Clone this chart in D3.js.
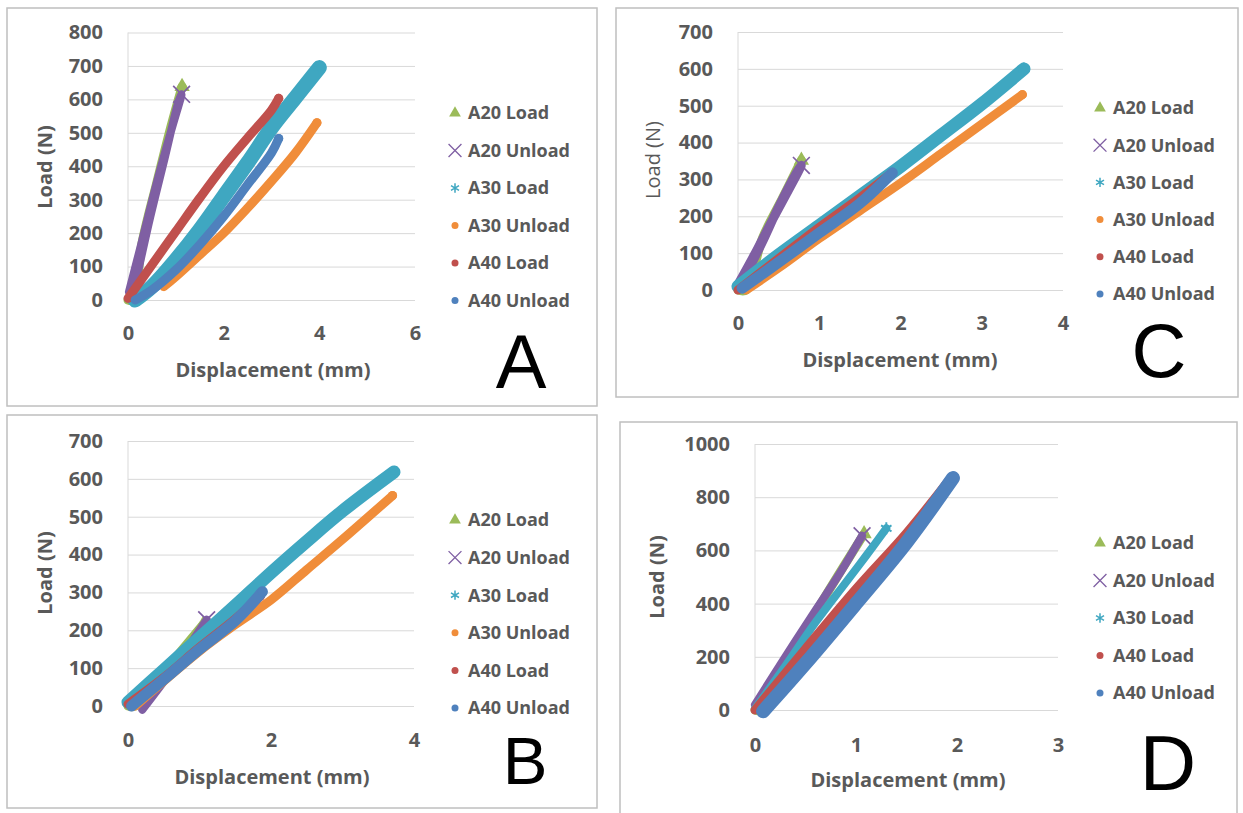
<!DOCTYPE html>
<html>
<head>
<meta charset="utf-8">
<script src="https://cdn.jsdelivr.net/npm/d3@7"></script>
<style>
	body { margin: 0; background: #fff; }
	text { font-family: "Open Sans", sans-serif; }
</style>
</head>
<body>
<svg id="chart" width="1243" height="813"></svg>
<script>
// legend labels, in Excel series order
var seriesNames = ["A20 Load", "A20 Unload", "A30 Load", "A30 Unload", "A40 Load", "A40 Unload"];

// tick values per panel
var xTicksA = [0, 2, 4, 6];
var yTicksA = [0, 100, 200, 300, 400, 500, 600, 700, 800];
var xTicksB = [0, 2, 4];
var yTicksB = [0, 100, 200, 300, 400, 500, 600, 700];
var xTicksC = [0, 1, 2, 3, 4];
var yTicksC = [0, 100, 200, 300, 400, 500, 600, 700];
var xTicksD = [0, 1, 2, 3];
var yTicksD = [0, 200, 400, 600, 800, 1000];

// panel A  [displacement mm, load N]
var aA20Load   = [[0, 0], [0.1, 0], [0.3, 175], [0.6, 350], [0.9, 520], [1.13, 638]];
var aA20Unload = [[0.02, 25], [0.3, 180], [0.6, 350], [0.9, 505], [1.12, 615], [1.06, 595], [0.76, 420], [0.46, 245], [0.16, 55], [0.06, 0]];
var aA30Load   = [[0.15, 0], [0.5, 40], [1, 120], [1.5, 210], [2, 310], [2.5, 410], [3, 515], [3.5, 605], [4, 695]];
var aA30Unload = [[0.75, 40], [1, 70], [1.5, 135], [2, 200], [2.5, 275], [3, 355], [3.5, 440], [3.95, 530]];
var aA40Load   = [[0, 5], [0.5, 105], [1, 205], [1.5, 305], [2, 400], [2.5, 485], [3, 568], [3.15, 603]];
var aA40Unload = [[0.15, 0], [0.5, 30], [1, 90], [1.5, 165], [2, 250], [2.5, 345], [3, 440], [3.15, 483]];

// panel B
var bA20Load   = [[0, 0], [0.1, 0], [0.5, 90], [1.05, 215]];
var bA20Unload = [[0.2, -10], [0.6, 90], [1.1, 228]];
var bA30Load   = [[0, 10], [0.5, 95], [1, 180], [1.5, 265], [2, 352], [2.5, 435], [3, 515], [3.72, 618]];
var bA30Unload = [[0.1, 0], [1, 145], [1.5, 215], [2, 280], [2.5, 360], [3, 440], [3.7, 556]];
var bA40Load   = [[0, 5], [0.5, 75], [1, 155], [1.5, 230], [1.85, 290]];
var bA40Unload = [[0.05, 0], [0.5, 70], [1, 150], [1.5, 225], [1.88, 302]];

// panel C
var cA20Load   = [[0, 0], [0.1, 0], [0.3, 140], [0.55, 250], [0.78, 352]];
var cA20Unload = [[0, 15], [0.2, 95], [0.4, 180], [0.6, 262], [0.78, 338], [0.72, 318], [0.5, 225], [0.3, 130], [0.1, 40], [0.05, 10]];
var cA30Load   = [[0, 10], [0.5, 95], [1, 175], [1.5, 255], [2, 335], [2.5, 420], [3, 505], [3.52, 600]];
var cA30Unload = [[0.1, 0], [0.5, 60], [1, 140], [1.5, 215], [2, 290], [2.5, 370], [3, 450], [3.5, 530]];
var cA40Load   = [[0, 0], [0.5, 85], [1, 170], [1.5, 250], [1.88, 315]];
var cA40Unload = [[0.05, 5], [0.5, 75], [1, 155], [1.5, 235], [1.9, 318]];

// panel D (no A30 Unload series)
var dA20Load   = [[0, 0], [0.1, 0], [0.5, 300], [1.08, 662]];
var dA20Unload = [[0, 20], [0.3, 200], [0.6, 375], [0.85, 520], [1.06, 655]];
var dA30Load   = [[0, 5], [0.3, 165], [0.6, 330], [0.9, 480], [1.1, 580], [1.3, 683]];
var dA40Load   = [[0, 0], [0.5, 230], [1, 455], [1.5, 665], [1.93, 868]];
var dA40Unload = [[0.08, -5], [0.5, 175], [1, 400], [1.5, 630], [1.96, 872]];

var colors = {
	"A20 Load": "#9BBB59",
	"A20 Unload": "#7F5FA3",
	"A30 Load": "#3FA7C1",
	"A30 Unload": "#F08D3A",
	"A40 Load": "#C0504D",
	"A40 Unload": "#4F81BD"
};

var svg = d3.select("#chart");
var grey = "#595959";

function drawPanel(p) {
	var g = svg.append("g");

	//frame round the chart
	g.append("rect")
		.attr("x", p.frame[0]).attr("y", p.frame[1])
		.attr("width", p.frame[2]).attr("height", p.frame[3])
		.attr("fill", "#fff")
		.attr("stroke", "#BFBFBF")
		.attr("stroke-width", 1.5);

	var x = d3.scaleLinear().domain(d3.extent(p.xTicks)).range(p.xRange);
	var y = d3.scaleLinear().domain(d3.extent(p.yTicks)).range(p.yRange);
	var plain = function(d) { return String(d); };

	//gridlines + y labels
	var yAxis = g.append("g")
		.attr("transform", "translate(" + p.xRange[0] + ",0)")
		.call(d3.axisLeft(y).tickValues(p.yTicks).tickFormat(plain)
			.tickSize(-(p.xRange[1] - p.xRange[0]))
			.tickPadding(25));
	yAxis.select(".domain").remove();
	yAxis.selectAll("line").attr("stroke", "#D9D9D9");
	yAxis.selectAll("text")
		.attr("fill", grey)
		.style("font-size", "20px")
		.style("font-weight", "bold")
		.style("font-family", "'Open Sans', sans-serif");

	//light vertical axis line
	g.append("line")
		.attr("x1", p.xRange[0]).attr("x2", p.xRange[0])
		.attr("y1", p.yRange[0]).attr("y2", p.yRange[1])
		.attr("stroke", "#D9D9D9");

	var xAxis = g.append("g")
		.attr("transform", "translate(0," + p.yRange[0] + ")")
		.call(d3.axisBottom(x).tickValues(p.xTicks).tickFormat(plain)
			.tickSize(0).tickPadding(p.xPad));
	xAxis.select(".domain").remove();
	xAxis.selectAll("text")
		.attr("fill", grey)
		.style("font-size", "20px")
		.style("font-weight", "bold")
		.style("font-family", "'Open Sans', sans-serif");

	//axis titles
	g.append("text")
		.attr("x", p.xTitle[0]).attr("y", p.xTitle[1])
		.attr("text-anchor", "middle")
		.attr("dy", "0.35em")
		.attr("fill", grey)
		.style("font-size", "20px")
		.style("font-weight", "bold")
		.text("Displacement (mm)");

	g.append("text")
		.attr("transform", "translate(" + p.yTitle[0] + "," + p.yTitle[1] + ") rotate(-90)")
		.attr("text-anchor", "middle")
		.attr("dy", "0.35em")
		.attr("fill", grey)
		.style("font-size", "20px")
		.style("font-weight", p.yTitleWeight)
		.text("Load (N)");

	//the series, drawn as thick bands of markers
	var line = d3.line()
		.x(function(d) { return x(d[0]); })
		.y(function(d) { return y(d[1]); })
		.curve(d3.curveCatmullRom.alpha(0.5));

	p.series.forEach(function(s) {
		g.append("path")
			.datum(s.values)
			.attr("d", line)
			.attr("fill", "none")
			.attr("stroke", colors[s.name])
			.attr("stroke-width", s.width || 9)
			.attr("stroke-linecap", "round")
			.attr("stroke-linejoin", "round");

		var last = s.values.reduce(function(a, b) { return b[1] > a[1] ? b : a; });
		drawMarker(g, s.name, x(last[0]), y(last[1]), 1.3);
	});

	//legend
	p.legendNames.forEach(function(name, i) {
		var ly = p.legend[1] + i * p.legend[2];
		drawMarker(g, name, p.legend[0], ly, 1);
		g.append("text")
			.attr("x", p.legend[0] + 13)
			.attr("y", ly)
			.attr("dy", "0.35em")
			.attr("fill", grey)
			.style("font-size", "18px")
			.style("font-weight", "bold")
			.text(name);
	});

	//panel letter
	g.append("text")
		.attr("x", p.letter[0]).attr("y", p.letter[1])
		.attr("text-anchor", "middle")
		.attr("fill", "#000")
		.style("font-family", "'Liberation Sans', Arial, sans-serif")
		.style("font-size", p.letter[3] + "px")
		.text(p.letter[2]);
}

function drawMarker(g, name, cx, cy, k) {
	var c = colors[name];
	if (name == "A20 Load") {
		g.append("path")
			.attr("d", d3.symbol(d3.symbolTriangle, 60 * k * k)())
			.attr("transform", "translate(" + cx + "," + cy + ")")
			.attr("fill", c);
	} else if (name == "A20 Unload") {
		g.append("path")
			.attr("d", d3.symbol(d3.symbolTimes, 110 * k * k)())
			.attr("transform", "translate(" + cx + "," + cy + ")")
			.attr("fill", "none")
			.attr("stroke", c)
			.attr("stroke-width", 1.3 * k);
	} else if (name == "A30 Load") {
		g.append("path")
			.attr("d", d3.symbol(d3.symbolAsterisk, 60 * k * k)())
			.attr("transform", "translate(" + cx + "," + cy + ")")
			.attr("fill", "none")
			.attr("stroke", c)
			.attr("stroke-width", 1.5 * k);
	} else {
		g.append("circle")
			.attr("cx", cx).attr("cy", cy)
			.attr("r", 3.5 * k)
			.attr("fill", c);
	}
}

drawPanel({
	frame: [7, 8, 590, 398],
	xTicks: xTicksA, yTicks: yTicksA,
	xRange: [128, 415], yRange: [300, 32.5],
	xPad: 26,
	xTitle: [273, 370], yTitle: [45, 167], yTitleWeight: "bold",
	series: [
		{name: "A20 Load", values: aA20Load},
		{name: "A20 Unload", values: aA20Unload, width: 8},
		{name: "A30 Load", values: aA30Load, width: 15},
		{name: "A30 Unload", values: aA30Unload},
		{name: "A40 Load", values: aA40Load},
		{name: "A40 Unload", values: aA40Unload}
	],
	legendNames: seriesNames,
	legend: [455, 113, 37.5],
	letter: [521, 388, "A", 76]
});

drawPanel({
	frame: [616, 8, 622, 389],
	xTicks: xTicksC, yTicks: yTicksC,
	xRange: [738, 1063], yRange: [290, 32],
	xPad: 26,
	xTitle: [900, 360], yTitle: [653, 160], yTitleWeight: "normal",
	series: [
		{name: "A20 Load", values: cA20Load},
		{name: "A20 Unload", values: cA20Unload, width: 9},
		{name: "A30 Load", values: cA30Load, width: 13},
		{name: "A30 Unload", values: cA30Unload},
		{name: "A40 Load", values: cA40Load},
		{name: "A40 Unload", values: cA40Unload, width: 11}
	],
	legendNames: seriesNames,
	legend: [1100, 108, 37.2],
	letter: [1159, 377, "C", 76]
});

drawPanel({
	frame: [7, 415, 590, 393],
	xTicks: xTicksB, yTicks: yTicksB,
	xRange: [128, 414], yRange: [706, 441],
	xPad: 27,
	xTitle: [272, 777], yTitle: [45, 573], yTitleWeight: "bold",
	series: [
		{name: "A20 Load", values: bA20Load},
		{name: "A20 Unload", values: bA20Unload, width: 8},
		{name: "A30 Load", values: bA30Load, width: 13},
		{name: "A30 Unload", values: bA30Unload},
		{name: "A40 Load", values: bA40Load},
		{name: "A40 Unload", values: bA40Unload, width: 11}
	],
	legendNames: seriesNames,
	legend: [455, 520, 37.6],
	letter: [525, 784, "B", 67]
});

drawPanel({
	frame: [620, 422, 617, 395],
	xTicks: xTicksD, yTicks: yTicksD,
	xRange: [755, 1058], yRange: [710, 444],
	xPad: 28,
	xTitle: [908, 780], yTitle: [657, 577], yTitleWeight: "bold",
	series: [
		{name: "A20 Load", values: dA20Load},
		{name: "A20 Unload", values: dA20Unload, width: 8},
		{name: "A30 Load", values: dA30Load, width: 8},
		{name: "A40 Load", values: dA40Load, width: 9},
		{name: "A40 Unload", values: dA40Unload, width: 14}
	],
	legendNames: ["A20 Load", "A20 Unload", "A30 Load", "A40 Load", "A40 Unload"],
	legend: [1100, 543, 37.5],
	letter: [1168, 790, "D", 78]
});
</script>
</body>
</html>
